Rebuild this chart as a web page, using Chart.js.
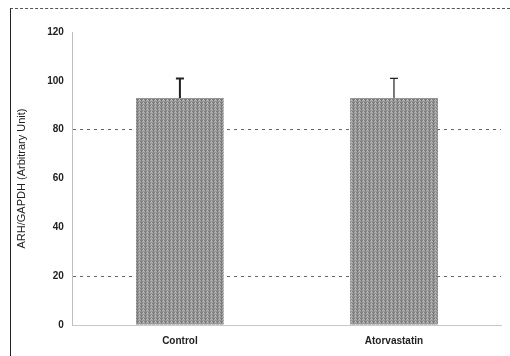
<!DOCTYPE html>
<html>
<head>
<meta charset="utf-8">
<script src="https://cdn.jsdelivr.net/npm/chart.js@4"></script>
<style>
    html, body { margin: 0; padding: 0; background: #fff; }
    #wrap { position: relative; width: 510px; height: 356px; }
    #frame {
        position: absolute; left: 10px; top: 8px; right: 0; bottom: 0;
        border-left: 1.5px solid #222;
        border-top: 1px dashed #555;
    }
    canvas { position: absolute; left: 0; top: 0; }
</style>
</head>
<body>
<div id="wrap">
    <div id="frame"></div>
    <canvas id="arh_chart" width="510" height="356"></canvas>
</div>
<script>
// ---- data ----
const groups = ["Control", "Atorvastatin"];
const arhValues = [93, 93];
const arhErrors = [8, 8];
const yTicks = [0, 20, 40, 60, 80, 100, 120];
const gridAt = [20, 80];

const fontFamily = "Arial, 'Liberation Sans', sans-serif";

// grey speckle-ish fill made of fixed stripes
function barPattern() {
    const c = document.createElement("canvas");
    c.width = 4;
    c.height = 3;
    const g = c.getContext("2d");
    const rows = ["#808080", "#adadad", "#949494"];
    rows.forEach((col, i) => {
        g.fillStyle = col;
        g.fillRect(0, i, 4, 1);
    });
    g.fillStyle = "#6e6e6e";
    g.fillRect(1, 1, 1, 1);
    g.fillStyle = "#bdbdbd";
    g.fillRect(3, 0, 1, 1);
    return g.createPattern(c, "repeat");
}

// error bars (upper only, like the figure)
const errorBars = {
    id: "errorBars",
    afterDatasetsDraw(chart) {
        const ctx = chart.ctx;
        const y = chart.scales.y;
        const meta = chart.getDatasetMeta(0);
        ctx.save();
        ctx.strokeStyle = "#222";
        meta.data.forEach((bar, i) => {
            const top = y.getPixelForValue(arhValues[i] + arhErrors[i]);
            const base = y.getPixelForValue(arhValues[i]);
            ctx.lineWidth = i === 0 ? 2 : 1.2;
            ctx.beginPath();
            ctx.moveTo(bar.x, base);
            ctx.lineTo(bar.x, top);
            ctx.moveTo(bar.x - 4, top);
            ctx.lineTo(bar.x + 4, top);
            ctx.stroke();
        });
        ctx.restore();
    }
};

new Chart(document.getElementById("arh_chart"), {
    type: "bar",
    data: {
        labels: groups,
        datasets: [{
            data: arhValues,
            backgroundColor: barPattern(),
            borderWidth: 0,
            barPercentage: 0.41,
            categoryPercentage: 1,
        }],
    },
    options: {
        responsive: false,
        animation: false,
        layout: { padding: { top: 32, right: 9, bottom: 7, left: 15 } },
        plugins: {
            legend: { display: false },
            tooltip: { enabled: false },
        },
        scales: {
            x: {
                grid: { display: false },
                border: { display: true, color: "#c8c8c8", dash: [2, 40] },
                ticks: {
                    color: "#222",
                    font: { family: fontFamily, size: 10, weight: "bold" },
                    padding: 2,
                },
            },
            y: {
                min: 0,
                max: 120,
                afterBuildTicks: (axis) => {
                    axis.ticks = yTicks.map((v) => ({ value: v }));
                },
                grid: {
                    drawTicks: false,
                    lineWidth: 1,
                    color: (c) => (gridAt.includes(c.tick.value) ? "#666" : "rgba(0,0,0,0)"),
                },
                border: { display: true, color: "#c0c0c0", dash: [3, 4] },
                ticks: {
                    color: "#222",
                    font: { family: fontFamily, size: 10, weight: "bold" },
                    padding: 9,
                },
                title: {
                    display: true,
                    text: "ARH/GAPDH (Arbitrary Unit)",
                    color: "#222",
                    font: { family: fontFamily, size: 11 },
                    padding: { top: 0, bottom: 10 },
                },
            },
        },
    },
    plugins: [errorBars],
});
</script>
</body>
</html>
